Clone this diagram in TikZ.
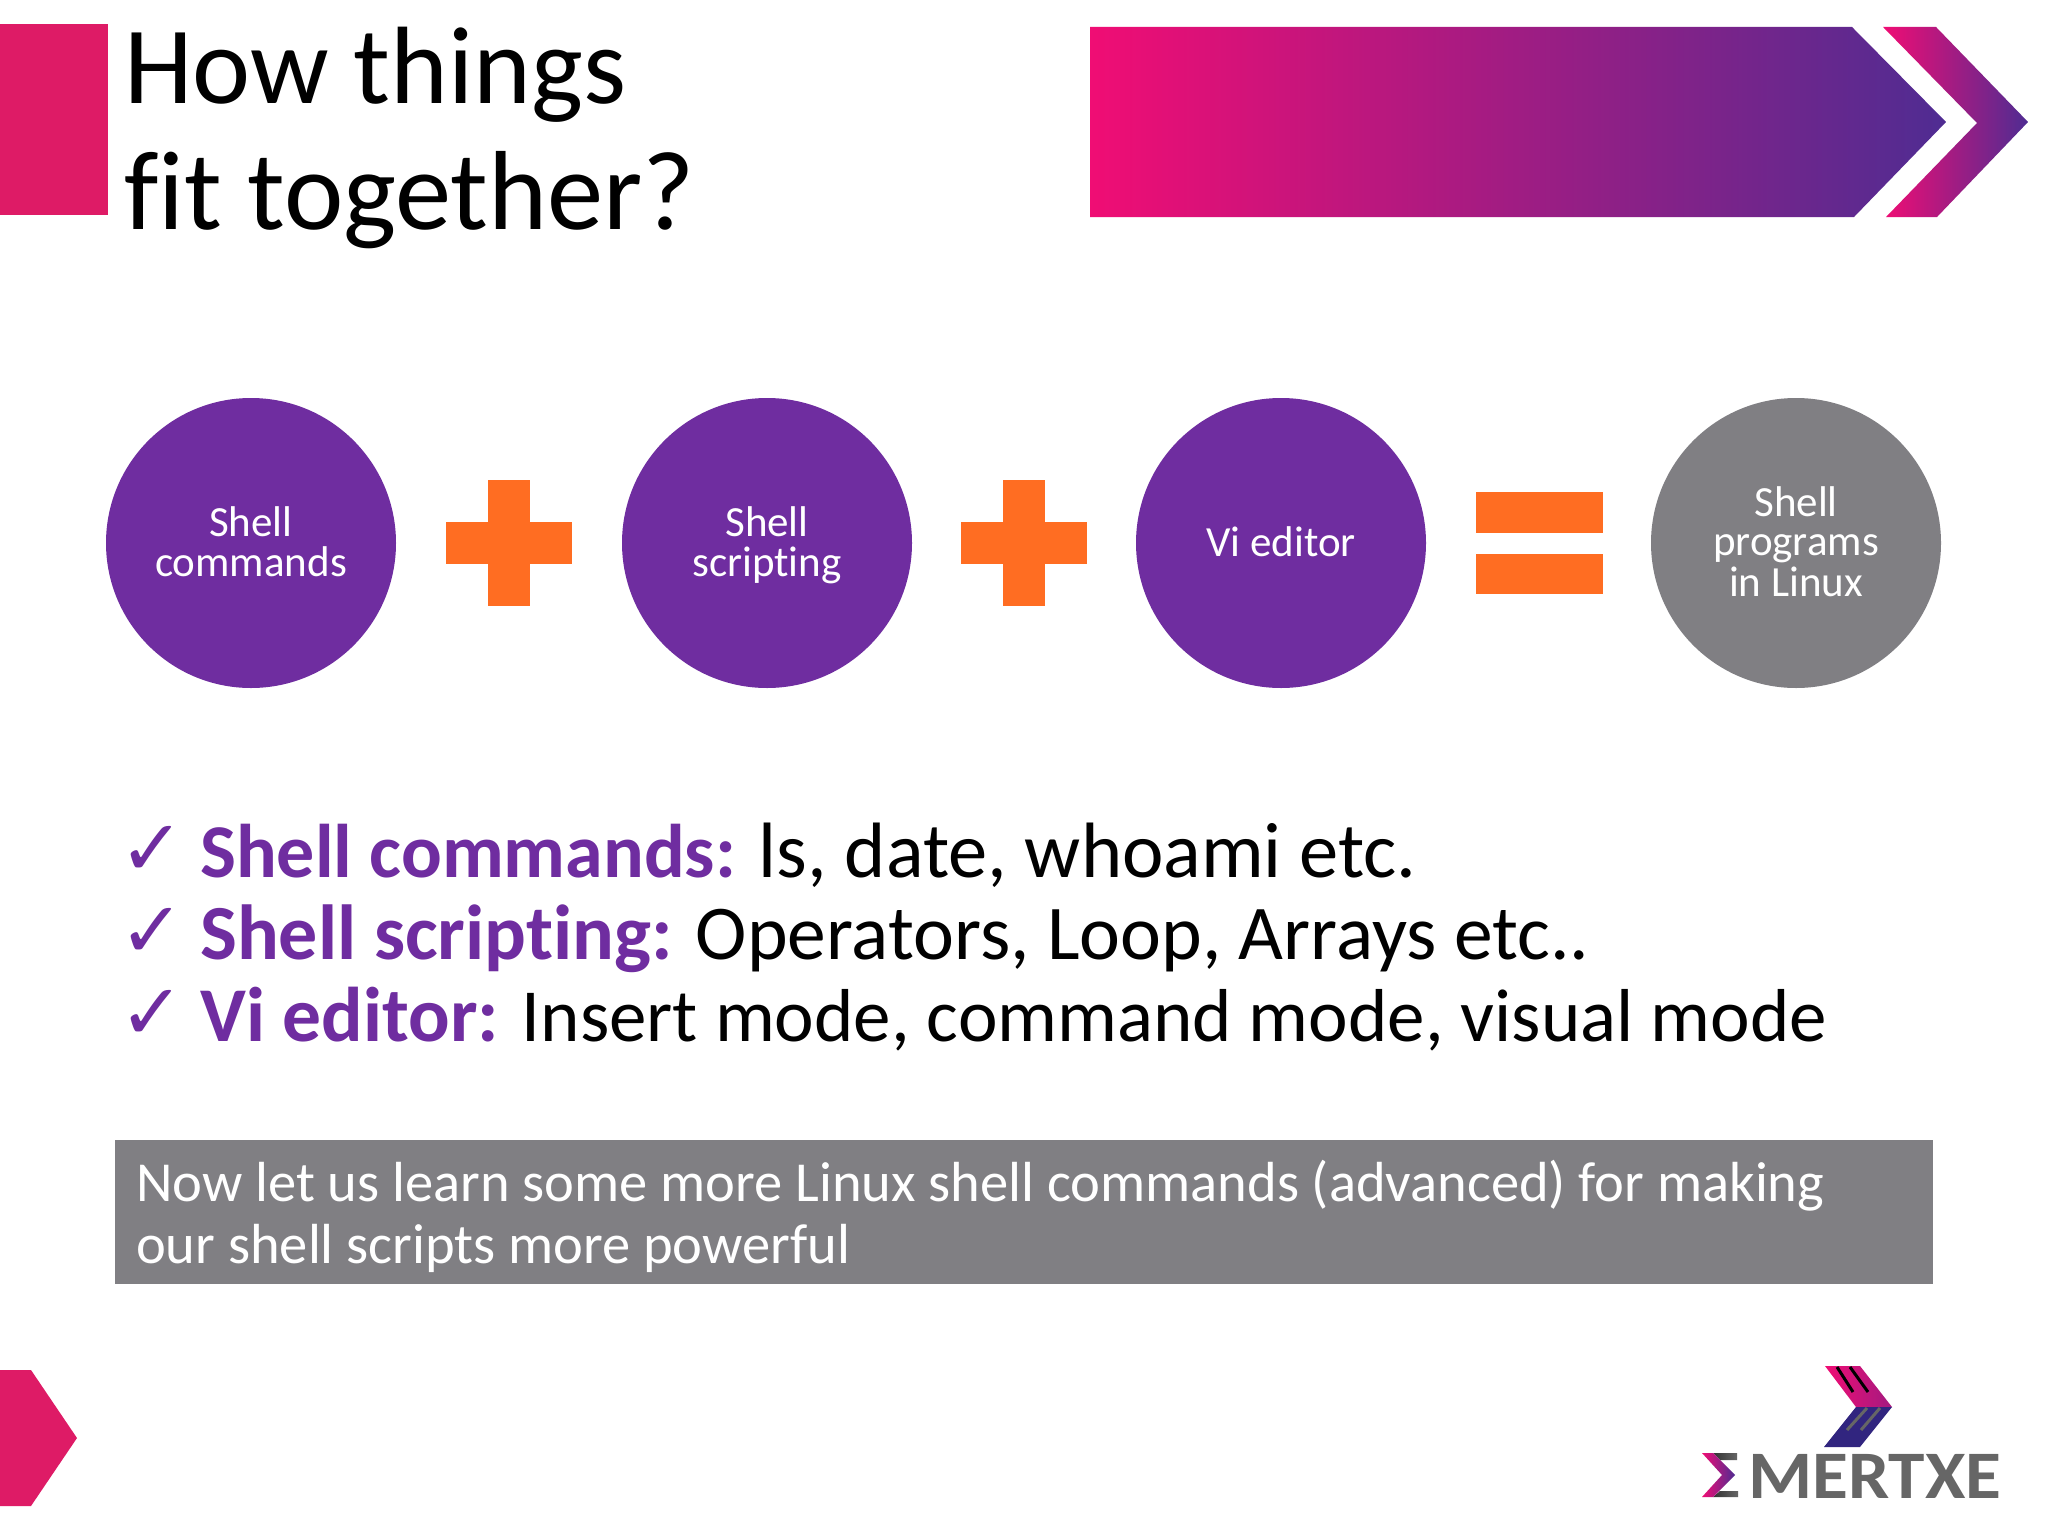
\documentclass[tikz,border=0pt]{standalone}
\usepackage{fontspec}
\setmainfont{Carlito}[Ligatures=NoCommon]
\newfontfamily\checkfont{DejaVu Sans}
\definecolor{pinkbar}{HTML}{DE1B66}
\definecolor{gradA}{HTML}{F00D74}
\definecolor{gradB}{HTML}{A31A80}
\definecolor{gradC}{HTML}{4F2C92}
\definecolor{purp}{HTML}{6F2DA0}
\definecolor{grayc}{HTML}{807F83}
\definecolor{orangep}{HTML}{FF6D22}
\definecolor{logog}{HTML}{666666}
\definecolor{logob}{HTML}{31257F}
\newcommand{\fs}[1]{\fontsize{#1}{#1}\selectfont}
\newcommand{\topst}{\rule{0pt}{39.4pt}}
\tikzset{x=1pt,y=-1pt,
 disc/.style={circle,minimum size=290pt,inner sep=0pt,text=white,align=center,font=\fontsize{43}{42}\selectfont,fill=purp},
 title/.style={anchor=base west,inner sep=0pt,font=\fs{112}},
 bul/.style={anchor=base west,inner sep=0pt,font=\fs{76}},
 chk/.style={anchor=base west,inner sep=0pt,font=\checkfont\fs{78},text=purp},
 bandtext/.style={anchor=base west,inner sep=0pt,font=\fs{56.5},text=white},
 logotext/.style={anchor=base west,inner sep=0pt,font=\bfseries\fs{68}\addfontfeature{FakeStretch=1.08},text=logog},
 plusc/.style={fill=orangep,draw=none},
 grad/.style={left color=gradA,middle color=gradB,right color=gradC}}
\begin{document}
\begin{tikzpicture}
\useasboundingbox (0,0) rectangle (2048,1536);
\fill[white] (0,0) rectangle (2048,1536);
\fill[pinkbar] (0,24) rectangle (108,215);
\node[title,font=\fs{110}] (t1) at (124,104) {How things};
\node[title,font=\fs{112.5}] (t2) at (124,229) {fit together?};
\shade[grad] (1090,27) -- (1852,27) -- (1946,122) -- (1854,217) -- (1090,217) -- cycle;
\shade[grad] (1883,27) -- (1936,27) -- (2028,122) -- (1937,217) -- (1886,217) -- (1977,123) -- cycle;
\node[disc] (c1) at (251,543) {\topst Shell\\[-2.5pt]\strut commands};
\node[disc] (c2) at (767,543) {\topst Shell\\[-2.5pt]\strut scripting};
\node[disc] (c3) at (1281,543) {\topst\strut Vi editor};
\node[disc,fill=grayc] (c4) at (1796,543) {\topst Shell\\[-2.5pt]\strut programs\\[-2.5pt]\strut in Linux};
\foreach \cx in {509,1024}{
 \fill[plusc] (\cx-63,522) rectangle (\cx+63,564);
 \fill[plusc] (\cx-21,480) rectangle (\cx+21,606);
}
\fill[plusc] (1476,492) rectangle (1603,533);
\fill[plusc] (1476,554) rectangle (1603,594);
\node[chk] (k1) at (119,875) {✓};
\node[chk] (k2) at (119,957) {✓};
\node[chk] (k3) at (119,1039) {✓};
\node[bul] (b1) at (200,877) {\textcolor{purp}{\textbf{Shell commands:}} \fs{78.5}ls, date, whoami etc.};
\node[bul] (b2) at (200,959) {\textcolor{purp}{\fs{78}\textbf{Shell scripting:}} \fs{77.5}Operators, Loop, Arrays etc..};
\node[bul] (b3) at (200,1041) {\textcolor{purp}{\fs{77.5}\textbf{Vi editor:}} \fs{75}Insert mode, command mode, visual mode};
\fill[grayc] (115,1140) rectangle (1933,1284);
\node[bandtext] (l1) at (136,1201) {Now let us learn some more Linux shell commands (advanced) for making};
\node[bandtext] (l2) at (136,1263) {our shell scripts more powerful};
\fill[pinkbar] (0,1370) -- (31,1370) -- (77,1438) -- (31,1506) -- (0,1506) -- cycle;
% logo mark
\shade[left color=gradA,right color=gradB] (1825,1366) -- (1860,1366) -- (1892,1407) -- (1856,1407) -- cycle;
\fill[logob] (1856,1407) -- (1892,1407) -- (1860,1447) -- (1824,1447) -- cycle;
\draw[black,line width=3pt] (1837,1367) -- (1853,1392);
\draw[black,line width=3pt] (1850,1367) -- (1868,1392);
\draw[logog,line width=3pt] (1847,1430) -- (1867,1408);
\draw[logog,line width=3pt] (1861,1430) -- (1880,1408);
% logo sigma
\shade[left color=logog!50!black,right color=logog] (1713,1453) -- (1737,1453) -- (1737,1460) -- (1720,1460) -- cycle;
\shade[left color=logog!50!black,right color=logog] (1713,1497) -- (1738,1497) -- (1738,1491) -- (1720,1491) -- cycle;
\shade[left color=gradA,right color=gradC] (1702,1453) -- (1713,1453) -- (1735,1475) -- (1713,1497) -- (1702,1497) -- (1722,1475) -- cycle;
\node[logotext] (logo) at (1748,1498) {MERTXE};
\end{tikzpicture}
\end{document}
